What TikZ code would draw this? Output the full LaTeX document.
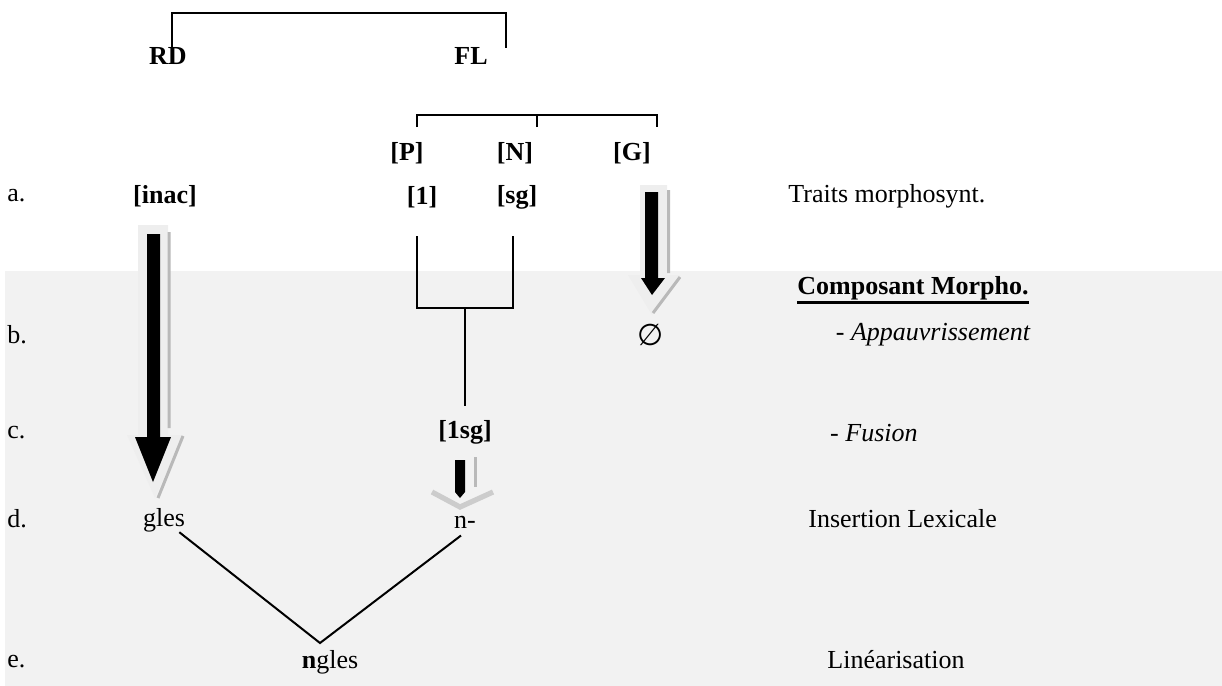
\documentclass[tikz,border=0pt]{standalone}
\usepackage{fontspec}
\setmainfont{Liberation Serif}
\newfontfamily\symbfont{DejaVu Sans}
\definecolor{panelgray}{RGB}{242,242,242}
\definecolor{haze}{RGB}{238,238,238}

\begin{document}
\begin{tikzpicture}[
  x=0.5pt, y=-0.5pt,
  every node/.style={font=\fontsize{13}{15}\selectfont, inner sep=0pt},
  feat/.style={font=\fontsize{13}{15}\selectfont\bfseries},
  row/.style={anchor=west},
  gloss/.style={anchor=west},
  step note/.style={anchor=east},
  link/.style={line width=1pt},
  halo/.style={fill=haze},
  rim/.style={draw=gray!55, line width=1.5pt},
  core/.style={fill=black},
]
\useasboundingbox (0,0) rectangle (1222,686);

% Morphological component (grey panel)
\fill[panelgray] (5,271) rectangle (1222,686);

% Block arrows: light halo, grey rim, black core
% [inac] -> gles
\fill[halo] (138,225) -- (168,225) -- (168,435) -- (183,435) -- (155,498)
  -- (127,435) -- (138,435) -- cycle;
\draw[rim] (169,232) -- (169,428) (183,436) -- (158,498);
\fill[core] (147,234) -- (160,234) -- (160,437) -- (171,437) -- (153,482)
  -- (135,437) -- (147,437) -- cycle;
% [G] -> void
\fill[halo] (640,185) -- (667,185) -- (667,275) -- (680,275) -- (652,315)
  -- (628,275) -- (640,275) -- cycle;
\draw[rim] (668.5,190) -- (668.5,273) (680,277) -- (653,313);
\fill[core] (645,192) -- (658,192) -- (658,278) -- (665,278) -- (652,295)
  -- (641,278) -- (645,278) -- cycle;
% [1sg] -> n-
\draw[rim] (475,457) -- (475,487);
\draw[rim, draw=gray!40, line width=2.6pt] (432,492) -- (460,507) -- (493,492);
\fill[core] (455,460) -- (465,460) -- (465,492) -- (460,498) -- (455,492) -- cycle;

% Heads
\node[feat] (RD) at (168,56) {RD};
\node[feat] (FL) at (471,56) {FL};
\node[feat] (P) at (407,153) {[P]};
\node[feat] (N) at (515,153) {[N]};
\node[feat] (G) at (632,153) {[G]};

% Row labels
\node[row] (rowa) at (7,196) {a.};
\node[row] (rowb) at (7,335) {b.};
\node[row] (rowc) at (7,433) {c.};
\node[row] (rowd) at (7,519) {d.};
\node[row] (rowe) at (7,662) {e.};

% Row contents
\node[feat] (inac) at (165,196) {[inac]};
\node[feat] (one) at (422,197) {[1]};
\node[feat] (sg) at (517,197) {[sg]};
\node (void) at (651,335) {\symbfont\fontsize{15}{17}\selectfont ∅};
\node[feat] (onesg) at (465,432) {[1sg]};
\node (gles) at (164,520) {gles};
\node (nmorph) at (465,522) {n-};
\node (ngles) at (330,662) {\textbf{n}gles};

% Glosses
\node[gloss] (traits) at (788,196) {Traits morphosynt.};
\node[gloss, feat] (compo) at (797,288) {Composant Morpho.};
\draw[line width=1.4pt] ([yshift=-1pt]compo.south west) -- ([yshift=-1pt]compo.south east);
\node[step note] (appauv) at (1031,335) {- \textit{Appauvrissement}};
\node[step note] (fusion) at (918,433) {- \textit{Fusion}};
\node[gloss] (insert) at (808,519) {Insertion Lexicale};
\node[gloss] (linear) at (827,660) {Linéarisation};

% Brackets
\coordinate (rdhook) at (172,48);
\coordinate (flhook) at (506,48);
\draw[link] (rdhook) -- ++(0,-35) -| (flhook);

\coordinate (phiP) at (417,127);
\coordinate (phiN) at (537,127);
\coordinate (phiG) at (657,127);
\draw[link] (phiP) -- ++(0,-12) -| (phiG);
\draw[link] (phiN) -- ++(0,-12);

\coordinate (fuseA) at (417,236);
\coordinate (fuseB) at (513,236);
\coordinate (fuseM) at (465,308);
\draw[link] (fuseA) |- (fuseB |- fuseM) -- (fuseB);
\draw[link] (fuseM) -- ([yshift=7pt]onesg.north);

% Linearisation
\coordinate (apex) at (320,643);
\draw[link] ([xshift=-3pt]gles.south east) -- (apex)
  -- ([xshift=-2pt,yshift=-3.5pt]nmorph.south);

\end{tikzpicture}
\end{document}
